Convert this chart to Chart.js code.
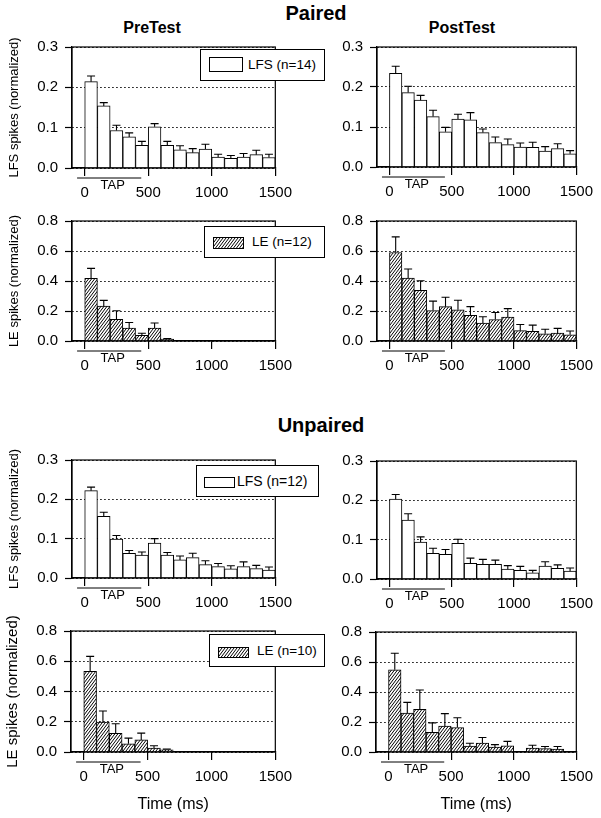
<!DOCTYPE html>
<html>
<head>
<meta charset="utf-8">
<script src="https://cdn.jsdelivr.net/npm/chart.js@4.4.1/dist/chart.umd.min.js"></script>
<style>
body { margin: 0; background: #fff; width: 601px; height: 818px; position: relative; overflow: hidden;
       font-family: "Liberation Sans", Arial, sans-serif; color: #000; }
canvas { position: absolute; }
.head { position: absolute; font-weight: bold; transform: translate(-50%, -50%); white-space: nowrap; line-height: 1; }
.leg { position: absolute; box-sizing: border-box; border: 1px solid #000; background: #fff; z-index: 5; white-space: nowrap; }
.leg .sw { position: absolute; box-sizing: border-box; border: 1px solid #000; background: #fff; }
.leg .tx { position: absolute; top: 0; }
</style>
</head>
<body>

<div class="head" style="left:316px; top:13px; font-size:20px;">Paired</div>
<div class="head" style="left:152px; top:28px; font-size:16px;">PreTest</div>
<div class="head" style="left:462px; top:28px; font-size:16px;">PostTest</div>
<div class="head" style="left:321px; top:425px; font-size:20px;">Unpaired</div>

<div class="leg" style="left:200px; top:49px; width:125px; height:32px;">
  <div class="sw" style="left:8px; top:7px; width:34px; height:15px;"></div>
  <span class="tx" style="left:47px; line-height:30px; font-size:13.5px;">LFS (n=14)</span>
</div>
<div class="leg" style="left:204px; top:226px; width:121px; height:32px;">
  <div class="sw hatch" style="left:8px; top:10px; width:31px; height:12px;"></div>
  <span class="tx" style="left:47px; line-height:30px; font-size:13.5px;">LE (n=12)</span>
</div>
<div class="leg" style="left:196px; top:465px; width:123px; height:32px;">
  <div class="sw" style="left:7px; top:11px; width:31px; height:11px;"></div>
  <span class="tx" style="left:40px; line-height:30px; font-size:14px;">LFS (n=12)</span>
</div>
<div class="leg" style="left:209px; top:634px; width:116px; height:33px;">
  <div class="sw hatch" style="left:8px; top:12px; width:31px; height:11px;"></div>
  <span class="tx" style="left:47px; line-height:31px; font-size:13.5px;">LE (n=10)</span>
</div>

<script>
// bins de 100 ms (centro de cada barra)
const timeBins = [50, 150, 250, 350, 450, 550, 650, 750, 850, 950, 1050, 1150, 1250, 1350, 1450];
const xTicks = [0, 500, 1000, 1500];
const lfsTicks = [0, 0.1, 0.2, 0.3];
const leTicks = [0, 0.2, 0.4, 0.6, 0.8];
const tapStart = -60, tapEnd = 445;

// Paired
const pairedPreLfs     = [0.214, 0.154, 0.093, 0.077, 0.056, 0.102, 0.056, 0.045, 0.038, 0.047, 0.027, 0.024, 0.027, 0.033, 0.026];
const pairedPreLfsSem  = [0.014, 0.008, 0.013, 0.010, 0.010, 0.008, 0.010, 0.010, 0.010, 0.012, 0.007, 0.007, 0.009, 0.011, 0.008];
const pairedPostLfs    = [0.234, 0.186, 0.167, 0.126, 0.088, 0.120, 0.118, 0.086, 0.061, 0.056, 0.050, 0.049, 0.040, 0.046, 0.033];
const pairedPostLfsSem = [0.018, 0.016, 0.012, 0.016, 0.011, 0.012, 0.018, 0.009, 0.014, 0.014, 0.010, 0.013, 0.011, 0.012, 0.008];
const pairedPreLe      = [0.417, 0.232, 0.144, 0.086, 0.037, 0.086, 0.012, 0, 0, 0, 0, 0, 0, 0, 0];
const pairedPreLeSem   = [0.067, 0.039, 0.058, 0.037, 0.015, 0.034, 0.004, 0, 0, 0, 0, 0, 0, 0, 0];
const pairedPostLe     = [0.590, 0.419, 0.337, 0.203, 0.229, 0.208, 0.171, 0.119, 0.143, 0.160, 0.069, 0.065, 0.048, 0.052, 0.041];
const pairedPostLeSem  = [0.104, 0.061, 0.065, 0.063, 0.063, 0.064, 0.058, 0.043, 0.047, 0.056, 0.041, 0.041, 0.030, 0.032, 0.026];

// Unpaired
const unpairedPreLfs     = [0.222, 0.157, 0.099, 0.063, 0.058, 0.089, 0.058, 0.046, 0.052, 0.034, 0.029, 0.023, 0.029, 0.024, 0.020];
const unpairedPreLfsSem  = [0.009, 0.010, 0.009, 0.007, 0.008, 0.011, 0.007, 0.010, 0.011, 0.010, 0.008, 0.008, 0.012, 0.008, 0.008];
const unpairedPostLfs    = [0.203, 0.150, 0.094, 0.065, 0.063, 0.091, 0.040, 0.037, 0.037, 0.025, 0.022, 0.016, 0.033, 0.027, 0.020];
const unpairedPostLfsSem = [0.012, 0.016, 0.013, 0.013, 0.012, 0.010, 0.013, 0.013, 0.011, 0.009, 0.010, 0.006, 0.011, 0.009, 0.008];
const unpairedPreLe      = [0.533, 0.198, 0.123, 0.054, 0.080, 0.026, 0.015, 0, 0, 0, 0, 0, 0, 0, 0];
const unpairedPreLeSem   = [0.099, 0.073, 0.064, 0.038, 0.045, 0.015, 0.004, 0, 0, 0, 0, 0, 0, 0, 0];
const unpairedPostLe     = [0.548, 0.260, 0.284, 0.131, 0.172, 0.163, 0.039, 0.060, 0.032, 0.041, 0, 0.026, 0.022, 0.019, 0];
const unpairedPostLeSem  = [0.110, 0.071, 0.129, 0.063, 0.084, 0.065, 0.019, 0.037, 0.017, 0.030, 0, 0.019, 0.015, 0.018, 0];

const FONT = '"Liberation Sans", Arial, sans-serif';
Chart.defaults.font.family = FONT;
Chart.defaults.color = '#000';

// patrón rayado para LE
function crearRayado() {
    const c = document.createElement('canvas');
    c.width = 3; c.height = 4;
    const g = c.getContext('2d');
    g.fillStyle = '#fff';
    g.fillRect(0, 0, 3, 4);
    g.strokeStyle = '#000';
    g.lineWidth = 1;
    g.beginPath();
    g.moveTo(0, 4); g.lineTo(3, 0);
    g.moveTo(-3, 4); g.lineTo(0, 0);
    g.moveTo(3, 4); g.lineTo(6, 0);
    g.stroke();
    return c;
}
const rayadoCanvas = crearRayado();
const rayado = rayadoCanvas.getContext('2d').createPattern(rayadoCanvas, 'repeat');
document.querySelectorAll('.hatch').forEach(el => {
    el.style.backgroundImage = `url(${rayadoCanvas.toDataURL()})`;
});

// barras de error (solo hacia arriba)
const errorBars = {
    id: 'errorBars',
    afterDatasetsDraw(chart) {
        const ctx = chart.ctx;
        const ds = chart.data.datasets[0];
        const y = chart.scales.y;
        ctx.save();
        ctx.strokeStyle = '#000';
        ctx.lineWidth = 1.1;
        chart.getDatasetMeta(0).data.forEach((bar, i) => {
            const e = ds.sem[i];
            if (!e) return;
            const top = y.getPixelForValue(ds.data[i].y + e);
            ctx.beginPath();
            ctx.moveTo(bar.x, bar.y);
            ctx.lineTo(bar.x, top);
            ctx.moveTo(bar.x - 4, top);
            ctx.lineTo(bar.x + 4, top);
            ctx.stroke();
        });
        ctx.restore();
    }
};

// marco y marca TAP
const marcoTap = {
    id: 'marcoTap',
    afterDraw(chart) {
        const ctx = chart.ctx;
        const a = chart.chartArea;
        const x = chart.scales.x;
        ctx.save();
        ctx.strokeStyle = '#000';
        ctx.lineWidth = 1.2;
        ctx.strokeRect(a.left, a.top, a.right - a.left, a.bottom - a.top);
        ctx.beginPath();
        ctx.moveTo(x.getPixelForValue(tapStart), a.bottom + 10);
        ctx.lineTo(x.getPixelForValue(tapEnd), a.bottom + 10);
        ctx.lineWidth = 1;
        ctx.stroke();
        ctx.fillStyle = '#000';
        ctx.font = '13px ' + FONT;
        ctx.textAlign = 'center';
        ctx.textBaseline = 'middle';
        ctx.fillText('TAP', x.getPixelForValue(220), a.bottom + 17);
        ctx.restore();
    }
};

const panels = [
    { col: 0, T: 43,  B: 168, L: 72,  R: 277, le: false, vals: pairedPreLfs,    sem: pairedPreLfsSem },
    { col: 1, T: 43,  B: 167, L: 377, R: 582, le: false, vals: pairedPostLfs,   sem: pairedPostLfsSem },
    { col: 0, T: 217, B: 341, L: 72,  R: 277, le: true,  vals: pairedPreLe,     sem: pairedPreLeSem },
    { col: 1, T: 217, B: 341, L: 377, R: 581, le: true,  vals: pairedPostLe,    sem: pairedPostLeSem },
    { col: 0, T: 456, B: 578, L: 72,  R: 277, le: false, vals: unpairedPreLfs,  sem: unpairedPreLfsSem },
    { col: 1, T: 457, B: 579, L: 377, R: 581, le: false, vals: unpairedPostLfs, sem: unpairedPostLfsSem },
    { col: 0, T: 627, B: 752, L: 71,  R: 277, le: true,  vals: unpairedPreLe,   sem: unpairedPreLeSem, last: true, big: true },
    { col: 1, T: 628, B: 752, L: 376, R: 579, le: true,  vals: unpairedPostLe,  sem: unpairedPostLeSem, last: true }
];

function crearPanel(p) {
    const colX = p.col ? 300 : 0;
    const colW = p.col ? 301 : 300;
    const top = p.T - 12;
    const bottom = p.last ? 818 : p.B + 36;
    const canvas = document.createElement('canvas');
    canvas.width = colW;
    canvas.height = bottom - top;
    canvas.style.left = colX + 'px';
    canvas.style.top = top + 'px';
    document.body.appendChild(canvas);

    const yTicks = p.le ? leTicks : lfsTicks;
    return new Chart(canvas, {
        type: 'bar',
        data: {
            datasets: [{
                data: timeBins.map((x, i) => ({ x: x, y: p.vals[i] })),
                sem: p.sem,
                backgroundColor: p.le ? rayado : '#fff',
                borderColor: '#000',
                borderWidth: 1,
                barPercentage: 1,
                categoryPercentage: 1
            }]
        },
        options: {
            responsive: false,
            animation: false,
            layout: { padding: { left: 0, top: 12, right: colX + colW - p.R, bottom: 0 } },
            plugins: { legend: { display: false }, tooltip: { enabled: false } },
            scales: {
                x: {
                    type: 'linear', min: -100, max: 1500, offset: false,
                    afterBuildTicks: s => { s.ticks = xTicks.map(v => ({ value: v })); },
                    afterFit: s => { s.height = bottom - p.B; },
                    grid: { offset: false, drawOnChartArea: false, drawTicks: true, tickLength: 8, color: '#000', lineWidth: 1.2 },
                    border: { display: true, color: '#000', width: 1.2 },
                    ticks: { padding: 8, font: { size: 15 }, color: '#000', maxRotation: 0, autoSkip: false,
                             callback: v => String(v) },
                    title: {
                        display: !!p.last, text: 'Time (ms)', color: '#000',
                        font: { size: 16 }, padding: { top: 0, bottom: 4 }
                    }
                },
                y: {
                    min: 0, max: yTicks[yTicks.length - 1],
                    afterBuildTicks: s => { s.ticks = yTicks.map(v => ({ value: v })); },
                    afterFit: s => { s.width = p.L - colX; },
                    grid: { color: '#000', lineWidth: 1, tickLength: 7, tickBorderDash: [], tickColor: '#000', tickWidth: 1.2 },
                    border: { display: true, color: '#000', width: 1.2, dash: [1.5, 2.5] },
                    ticks: { padding: 7, font: { size: 15 }, color: '#000', callback: v => v.toFixed(1) },
                    title: {
                        display: p.col === 0,
                        text: p.le ? 'LE spikes (normalized)' : 'LFS spikes (normalized)',
                        color: '#000',
                        font: { size: p.big ? 15 : 13 },
                        padding: { top: p.big ? 4 : 7, bottom: 0 }
                    }
                }
            }
        },
        plugins: [errorBars, marcoTap]
    });
}

const charts = panels.map(crearPanel);
</script>
</body>
</html>
